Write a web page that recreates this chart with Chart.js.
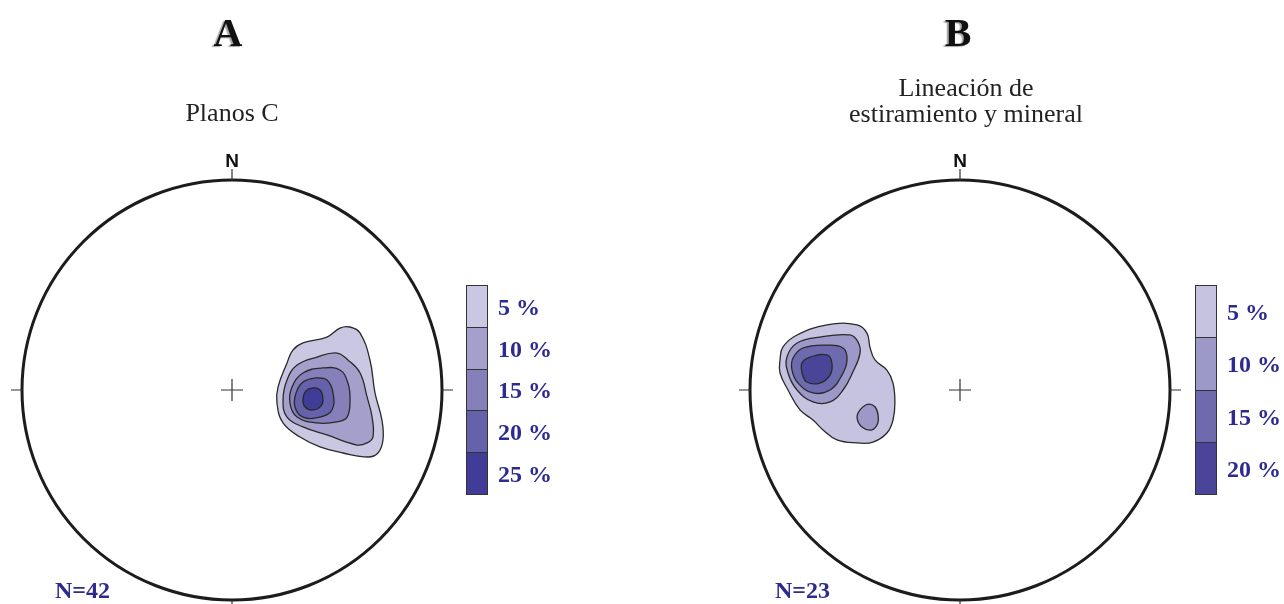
<!DOCTYPE html>
<html lang="es">
<head>
<meta charset="utf-8">
<title>Redes estereográficas</title>
<script src="https://cdn.jsdelivr.net/npm/chart.js@4/dist/chart.umd.min.js"></script>
<style>
  html, body { margin: 0; padding: 0; background: #fff; }
  #page { position: relative; width: 1284px; height: 604px; overflow: hidden; }
  .net { position: absolute; top: 0; width: 556px; height: 604px; }
  .txt { position: absolute; white-space: nowrap; line-height: 1; }
  .serif { font-family: "Liberation Serif", "Times New Roman", serif; }
  .panel { font-weight: bold; font-size: 40px; color: #111;
           text-shadow: -2px 1px 1px rgba(0,0,0,0.35); }
  .sub { font-size: 26px; color: #222; }
  .north { font-family: "Liberation Sans", Arial, sans-serif; font-weight: bold; font-size: 19px; color: #111; }
  .key { font-weight: bold; font-size: 24px; color: #2d2b8f; }
  .box { position: absolute; box-sizing: border-box; border: 1px solid #333; }
</style>
</head>
<body>
<div id="page">
  <canvas id="netA" class="net" width="556" height="604" style="left:0px"></canvas>
  <canvas id="netB" class="net" width="556" height="604" style="left:728px"></canvas>
</div>
<script>
// ---- Diagrama A: planos C (density contours, % per 1% area) ----
const levelsA = ['5 %', '10 %', '15 %', '20 %', '25 %'];
const coloursA = ['#c9c7e2', '#a49fcb', '#8580ba', '#6561ab', '#403c98'];
const countA = 'N=42';

const contourA5 = [[0.562,0.300],[0.610,0.271],[0.657,0.143],[0.681,-0.014],[0.714,-0.143],[0.719,-0.238],
  [0.695,-0.300],[0.648,-0.319],[0.529,-0.300],[0.419,-0.271],[0.324,-0.224],[0.243,-0.157],[0.214,-0.062],
  [0.219,0.014],[0.262,0.129],[0.290,0.190],[0.338,0.224],[0.452,0.252],[0.514,0.295]];
const contourA10 = [[0.405,0.157],[0.500,0.176],[0.552,0.143],[0.610,0.081],[0.643,-0.033],[0.667,-0.129],
  [0.671,-0.224],[0.643,-0.252],[0.595,-0.262],[0.452,-0.214],[0.338,-0.176],[0.262,-0.129],[0.243,-0.048],
  [0.262,0.048],[0.310,0.119]];
const contourA15 = [[0.433,0.105],[0.514,0.095],[0.552,0.033],[0.562,-0.048],[0.548,-0.129],[0.500,-0.152],
  [0.405,-0.157],[0.310,-0.129],[0.276,-0.062],[0.286,0.014],[0.338,0.081]];
const contourA20 = [[0.395,0.057],[0.452,0.048],[0.481,-0.014],[0.476,-0.095],[0.419,-0.129],[0.338,-0.129],
  [0.300,-0.081],[0.305,-0.014],[0.338,0.038]];
const contourA25 = [[0.386,0.010],[0.419,0.000],[0.433,-0.038],[0.424,-0.076],[0.386,-0.095],[0.348,-0.081],
  [0.338,-0.043],[0.352,-0.005]];

// ---- Diagrama B: lineación de estiramiento y mineral ----
const levelsB = ['5 %', '10 %', '15 %', '20 %'];
const coloursB = ['#c5c3e0', '#9c98c8', '#6e6aae', '#4a4599'];
const countB = 'N=23';

const contourB5 = [[-0.857,0.143],[-0.843,0.205],[-0.776,0.262],[-0.633,0.310],[-0.490,0.310],[-0.443,0.271],
  [-0.429,0.205],[-0.405,0.143],[-0.348,0.095],[-0.319,0.033],[-0.310,-0.062],[-0.319,-0.143],[-0.348,-0.205],
  [-0.414,-0.248],[-0.490,-0.252],[-0.586,-0.238],[-0.652,-0.190],[-0.700,-0.143],[-0.762,-0.095],
  [-0.819,0.000],[-0.857,0.081]];
const contourB10 = [[-0.824,0.157],[-0.776,0.224],[-0.667,0.252],[-0.524,0.262],[-0.486,0.229],[-0.476,0.176],
  [-0.510,0.086],[-0.557,0.000],[-0.619,-0.057],[-0.700,-0.057],[-0.776,0.000],[-0.819,0.081]];
const contourB10b = [[-0.440,-0.068],[-0.405,-0.080],[-0.390,-0.120],[-0.392,-0.160],[-0.419,-0.190],
  [-0.467,-0.176],[-0.490,-0.133],[-0.476,-0.095]];
const contourB15 = [[-0.795,0.152],[-0.748,0.200],[-0.633,0.214],[-0.557,0.200],[-0.538,0.143],[-0.562,0.071],
  [-0.619,0.000],[-0.700,-0.014],[-0.771,0.033],[-0.800,0.095]];
const contourB20 = [[-0.752,0.129],[-0.714,0.157],[-0.633,0.167],[-0.610,0.129],[-0.619,0.071],[-0.667,0.033],
  [-0.729,0.038],[-0.752,0.081]];

// Contours listed outermost first, each with the index of its density level.
const contoursA = [[contourA5, 0], [contourA10, 1], [contourA15, 2], [contourA20, 3], [contourA25, 4]];
const contoursB = [[contourB5, 0], [contourB10, 1], [contourB10b, 1], [contourB15, 2], [contourB20, 3]];

// Equal-area net frame: primitive circle, cardinal ticks and centre cross.
const netFrame = {
  id: 'netFrame',
  beforeDatasetsDraw(chart) {
    const { ctx, scales: { x, y } } = chart;
    const cx = x.getPixelForValue(0), cy = y.getPixelForValue(0);
    const r = x.getPixelForValue(1) - cx;
    ctx.save();
    ctx.strokeStyle = '#1c1c1c';
    ctx.lineWidth = 3;
    ctx.beginPath();
    ctx.arc(cx, cy, r, 0, Math.PI * 2);
    ctx.stroke();
    ctx.lineWidth = 1.2;
    ctx.strokeStyle = '#333';
    const t = 11, c = 11;
    ctx.beginPath();
    ctx.moveTo(cx, cy - r); ctx.lineTo(cx, cy - r - t);
    ctx.moveTo(cx, cy + r); ctx.lineTo(cx, cy + r + t);
    ctx.moveTo(cx - r, cy); ctx.lineTo(cx - r - t, cy);
    ctx.moveTo(cx + r, cy); ctx.lineTo(cx + r + t, cy);
    ctx.moveTo(cx - c, cy); ctx.lineTo(cx + c, cy);
    ctx.moveTo(cx, cy - c); ctx.lineTo(cx, cy + c);
    ctx.stroke();
    ctx.restore();
  }
};

// Each contour is a closed ring: mark the line elements as loops so the
// spline runs smoothly through the first/last vertex (as the radar chart does).
const closedContours = {
  id: 'closedContours',
  afterDatasetUpdate(chart, args) {
    const line = args.meta.dataset;
    if (line) { line._loop = true; line._fullLoop = true; }
  }
};

function buildNet(canvasId, contours, colours) {
  // Reversed so the innermost contour is dataset 0 and is painted last.
  const datasets = contours.slice().reverse().map(([pts, lvl]) => ({
    data: pts.map(([x, y]) => ({ x, y })),
    showLine: true,
    fill: 'shape',
    backgroundColor: colours[lvl],
    borderColor: '#2a2a2a',
    borderWidth: 1.3,
    pointRadius: 0,
    tension: 0.42
  }));
  // Net radius is one data unit; the ranges give 210 px per unit on both axes.
  return new Chart(document.getElementById(canvasId), {
    type: 'scatter',
    data: { datasets },
    options: {
      responsive: false,
      maintainAspectRatio: false,
      devicePixelRatio: 1,
      animation: false,
      events: [],
      layout: { padding: 0 },
      plugins: { legend: { display: false }, tooltip: { enabled: false }, title: { display: false } },
      scales: {
        x: { type: 'linear', display: false, min: -232 / 210, max: (556 - 232) / 210 },
        y: { type: 'linear', display: false, min: -(604 - 390) / 210, max: 390 / 210 }
      }
    },
    plugins: [closedContours, netFrame]
  });
}

buildNet('netA', contoursA, coloursA);
buildNet('netB', contoursB, coloursB);

// ---- Text and colour keys ----
const page = document.getElementById('page');
function addText(text, cls, x, baseline, size, asc, align) {
  const d = document.createElement('div');
  d.className = 'txt ' + cls;
  d.textContent = text;
  d.style.top = (baseline - asc * size) + 'px';
  if (align === 'center') { d.style.left = x + 'px'; d.style.transform = 'translateX(-50%)'; }
  else d.style.left = x + 'px';
  page.appendChild(d);
}
const SERIF = 0.8375, SANS = 0.8465;

addText('A', 'serif panel', 228, 46, 40, SERIF, 'center');
addText('B', 'serif panel', 958, 46, 40, SERIF, 'center');
addText('Planos C', 'serif sub', 232, 122, 26, SERIF, 'center');
addText('Lineación de', 'serif sub', 966, 97, 26, SERIF, 'center');
addText('estiramiento y mineral', 'serif sub', 966, 123, 26, SERIF, 'center');
addText('N', 'north', 232, 167, 19, SANS, 'center');
addText('N', 'north', 960, 167, 19, SANS, 'center');
addText(countA, 'serif key', 55, 598, 24, SERIF, 'left');
addText(countB, 'serif key', 775, 598, 24, SERIF, 'left');

function addKey(levels, colours, left, top, height) {
  const h = height / levels.length;
  levels.forEach((lab, i) => {
    const b = document.createElement('div');
    b.className = 'box';
    b.style.left = left + 'px';
    b.style.top = (top + i * h) + 'px';
    b.style.width = '22px';
    b.style.height = (h + 1) + 'px';
    b.style.background = colours[i];
    page.appendChild(b);
    addText(lab, 'serif key', left + 32, top + i * h + h / 2 + 9, 24, SERIF, 'left');
  });
}
addKey(levelsA, coloursA, 466, 285, 209);
addKey(levelsB, coloursB, 1195, 285, 209);
</script>
</body>
</html>
